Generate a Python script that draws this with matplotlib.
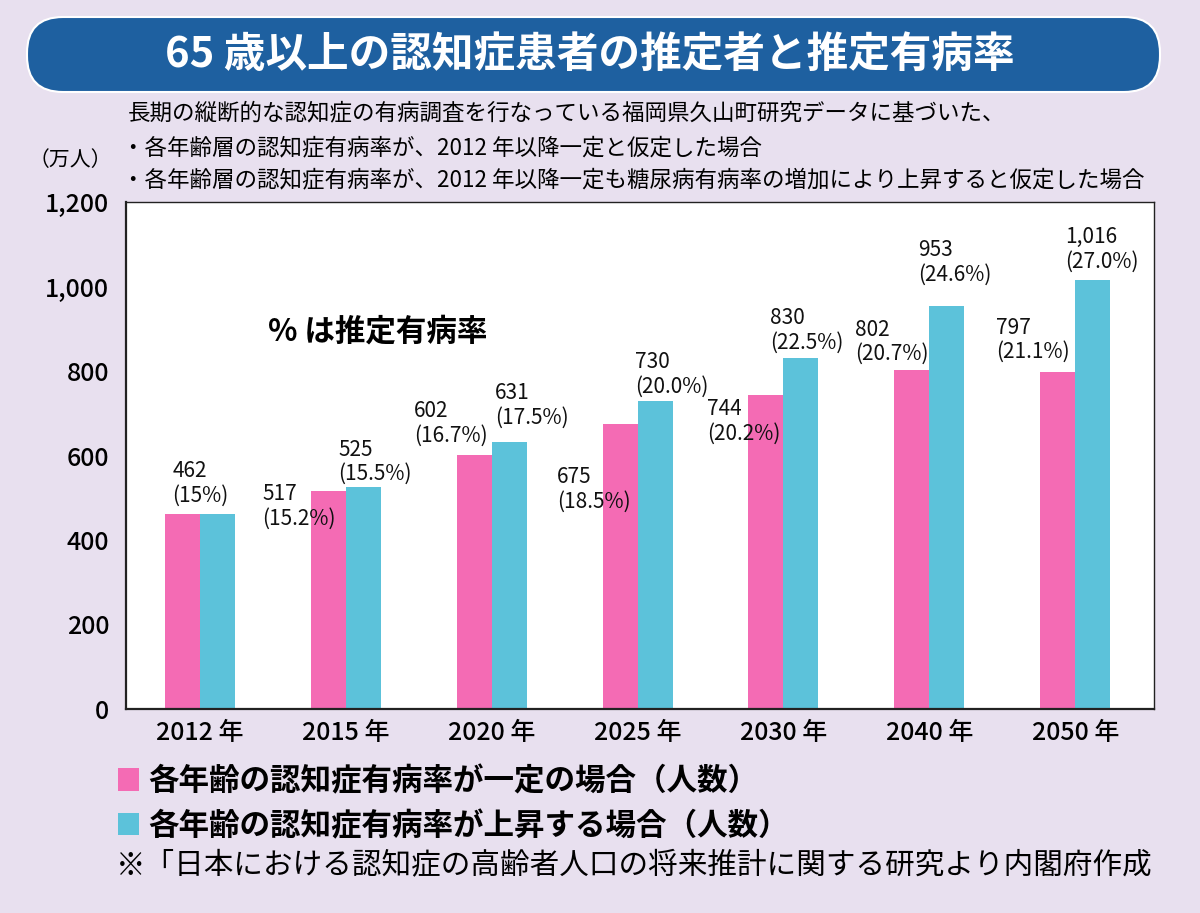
import matplotlib
matplotlib.use("Agg")
from matplotlib import pyplot as plt
import matplotlib.patches as mpatches
import numpy as np

plt.rcParams['font.family'] = ['Noto Sans CJK JP', 'DejaVu Sans']
plt.rcParams['axes.unicode_minus'] = False

# データ
years = ["2012 年", "2015 年", "2020 年", "2025 年", "2030 年", "2040 年", "2050 年"]
const_num = [462, 517, 602, 675, 744, 802, 797]
const_pct = ["15%", "15.2%", "16.7%", "18.5%", "20.2%", "20.7%", "21.1%"]
rise_num = [462, 525, 631, 730, 830, 953, 1016]
rise_pct = ["15%", "15.5%", "17.5%", "20.0%", "22.5%", "24.6%", "27.0%"]
yticks = [0, 200, 400, 600, 800, 1000, 1200]

# ラベル位置（棒の上端からのずれ, pixel）
const_off = [(-10, 7), (-66, -39), (-60, 8), (-63, -89), (-59, -50), (-57, 5), (-62, 9)]
rise_off = [None, (-25, 2), (-14, 14), (-20, 3), (-31, 5), (-29, 21), (-28, 7)]

PINK = '#f46bb4'
CYAN = '#5cc2da'
BG = '#e8e0ef'

W, H = 1200, 913
fig = plt.figure(figsize=(12, 9.13), dpi=100, facecolor=BG)
ax = fig.add_axes([126 / W, 1 - 709 / H, 1028 / W, 507 / H])
ax.set_facecolor('white')

x = np.arange(len(years))
bw = 0.24
b1 = ax.bar(x - bw / 2, const_num, bw, color=PINK, label="各年齢の認知症有病率が一定の場合（人数）")
b2 = ax.bar(x + bw / 2, rise_num, bw, color=CYAN, label="各年齢の認知症有病率が上昇する場合（人数）")

ax.set_xlim(-0.507, len(years) - 0.46)
ax.set_ylim(0, 1200)
ax.set_yticks(yticks)
ax.set_yticklabels([f"{v:,}" for v in yticks], fontsize=18, fontweight='medium')
ax.set_xticks(x)
ax.set_xticklabels(years, fontsize=18, fontweight='medium')
ax.tick_params(axis='y', length=0, pad=12)
ax.tick_params(axis='x', length=0, pad=8)
for s in ax.spines.values():
    s.set_color('#222222')
    s.set_linewidth(1.0)
ax.spines['left'].set_linewidth(1.6)
ax.spines['bottom'].set_linewidth(1.6)

# 数値ラベル
def put_label(xc, v, pct, off):
    ax.annotate(f"{v:,}\n({pct})", xy=(xc, v), xytext=off, textcoords='offset pixels',
                ha='left', va='bottom', fontsize=15, linespacing=1.15, color='#111111')

for i in range(len(years)):
    put_label(x[i] - bw / 2, const_num[i], const_pct[i], const_off[i])
    if rise_off[i] is not None:
        put_label(x[i] + bw / 2, rise_num[i], rise_pct[i], rise_off[i])

fig.text(268 / W, 1 - 332 / H, "% は推定有病率", fontsize=22, fontweight='bold', va='center', ha='left')

# タイトル
box = mpatches.FancyBboxPatch((27, H - 92), 1133, 75, boxstyle="round,pad=0,rounding_size=36",
                              transform=None, facecolor='#1e60a0', edgecolor='white', linewidth=1.5)
fig.patches.append(box)
fig.text(590 / W, 1 - 55 / H, "65 歳以上の認知症患者の推定者と推定有病率", color='white',
         fontsize=30, fontweight='bold', ha='center', va='center')

# 説明文
fig.text(128 / W, 1 - 113 / H, "長期の縦断的な認知症の有病調査を行なっている福岡県久山町研究データに基づいた、",
         fontsize=16.2, va='center', ha='left')
fig.text(122 / W, 1 - 148 / H, "・各年齢層の認知症有病率が、2012 年以降一定と仮定した場合",
         fontsize=16.2, va='center', ha='left')
fig.text(122 / W, 1 - 180 / H, "・各年齢層の認知症有病率が、2012 年以降一定も糖尿病有病率の増加により上昇すると仮定した場合",
         fontsize=16.2, va='center', ha='left')
fig.text(70 / W, 1 - 160 / H, "（万人）", fontsize=15, va='center', ha='center')

# 凡例
fig.legend(handles=[b1, b2], loc='upper left', bbox_to_anchor=(118 / W, 1 - 765 / H),
           frameon=False, prop={'weight': 'bold', 'size': 22}, borderpad=0, borderaxespad=0,
           handlelength=0.68, handleheight=0.75, handletextpad=0.3, labelspacing=0.42)

fig.text(116 / W, 1 - 866 / H, "※「日本における認知症の高齢者人口の将来推計に関する研究より内閣府作成",
         fontsize=21.3, va='center', ha='left')

fig.savefig("out.png", dpi=100, facecolor=BG)
